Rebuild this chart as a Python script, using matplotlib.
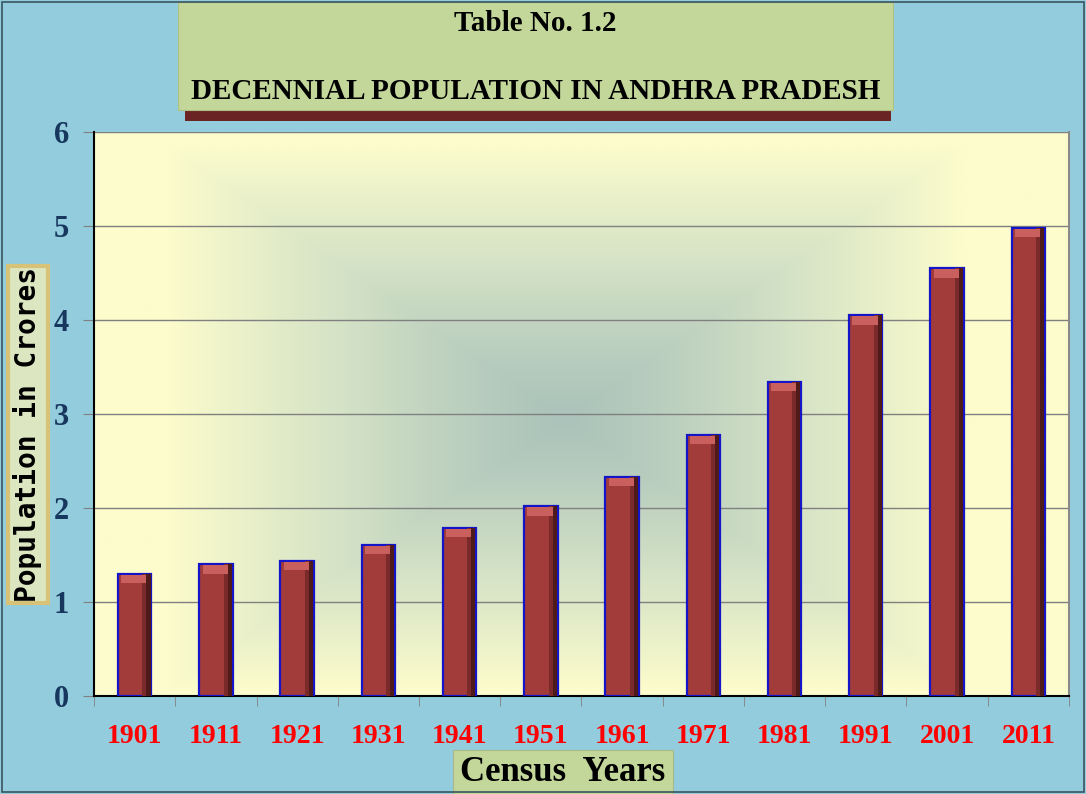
import numpy as np
import matplotlib.pyplot as plt
from matplotlib.patches import Rectangle, FancyBboxPatch
from matplotlib.colors import LinearSegmentedColormap

# census years and population (crores)
years = ['1901', '1911', '1921', '1931', '1941', '1951',
         '1961', '1971', '1981', '1991', '2001', '2011']
population = [1.30, 1.40, 1.44, 1.61, 1.79, 2.02,
              2.33, 2.78, 3.34, 4.05, 4.55, 4.98]
yticks = [0, 1, 2, 3, 4, 5, 6]

serif = ['Liberation Serif', 'DejaVu Serif']

fig = plt.figure(figsize=(10.86, 7.94), dpi=100, facecolor='#93CDDD')
ax = fig.add_axes([0.0866, 0.1234, 0.8977, 0.7104])

x = np.arange(len(years))
xmin, xmax = -0.5, len(years) - 0.5

# plot-area background: rectangular "from centre" gradient
gx, gy = np.meshgrid(np.linspace(xmin, xmax, 400), np.linspace(0, 6, 300))
t = np.maximum(np.abs(gx - 5.3) / 4.9, np.abs(gy - 2.95) / 2.9)
t = np.clip(t, 0, 1) ** 1.2
cmap = LinearSegmentedColormap.from_list('bg', ['#ABC3BA', '#D4E2C6', '#FCFCCC'])
ax.imshow(t, extent=[xmin, xmax, 0, 6], origin='lower', aspect='auto',
          cmap=cmap, vmin=0, vmax=1, zorder=0, interpolation='bilinear')

# bars
w = 0.41
ax.bar(x, population, width=w, color='#A23C3B', edgecolor='#1414C8',
       linewidth=1.6, zorder=3)
# shading for a bit of depth: dark right side, lighter top cap
ax.bar(x + w / 2 - 0.035, population, width=0.05, color='#4E1A1A',
       linewidth=0, zorder=4)
ax.bar(x + w / 2 - 0.085, population, width=0.05, color='#7A2A2A',
       linewidth=0, zorder=4)
cap = [0.09] * len(years)
ax.bar(x - 0.01, cap, bottom=[p - 0.1 for p in population], width=w - 0.1,
       color='#C9605E', linewidth=0, zorder=5)

ax.set_xlim(xmin, xmax)
ax.set_ylim(0, 6)
ax.set_yticks(yticks)
ax.grid(axis='y', color='#808080', linewidth=1.0, zorder=1)
ax.set_axisbelow(True)

ax.set_xticks(x)
ax.set_xticklabels(years)
ax.set_xticks(np.arange(xmin, xmax + 0.5, 1), minor=True)
ax.tick_params(axis='x', which='major', length=0, pad=20)
ax.tick_params(axis='x', which='minor', length=7, color='#808080', direction='out')
ax.tick_params(axis='y', length=8, color='#808080', pad=10)
for lb in ax.get_xticklabels():
    lb.set_fontfamily(serif)
    lb.set_fontweight('bold')
    lb.set_fontsize(20)
    lb.set_color('#FF0000')
for lb in ax.get_yticklabels():
    lb.set_fontfamily(serif)
    lb.set_fontweight('bold')
    lb.set_fontsize(22)
    lb.set_color('#17375E')

ax.spines['left'].set_color('black')
ax.spines['left'].set_linewidth(1.5)
ax.spines['bottom'].set_color('black')
ax.spines['bottom'].set_linewidth(1.5)
ax.spines['right'].set_color('#8A8A8A')
ax.spines['right'].set_linewidth(1.5)
ax.spines['top'].set_visible(False)

# title box with dark red shadow
fig.patches.append(Rectangle((0.170, 0.848), 0.650, 0.020, transform=fig.transFigure,
                             facecolor='#6A2424', edgecolor='none', zorder=1))
fig.patches.append(Rectangle((0.164, 0.862), 0.658, 0.136, transform=fig.transFigure,
                             facecolor='#C4D79B', edgecolor='#B0C080', linewidth=0.8, zorder=2))
fig.text(0.493, 0.971, 'Table No. 1.2', ha='center', va='center', family=serif,
         fontweight='bold', fontsize=21, color='black', zorder=3)
fig.text(0.493, 0.885, 'DECENNIAL POPULATION IN ANDHRA PRADESH', ha='center',
         va='center', family=serif, fontweight='bold', fontsize=21,
         color='black', zorder=3)

# y-axis label box
fig.patches.append(FancyBboxPatch((0.007, 0.240), 0.037, 0.425, transform=fig.transFigure,
                                  boxstyle='square,pad=0', facecolor='#DCE6C0',
                                  edgecolor='#D8C277', linewidth=3, zorder=2))
fig.text(0.0255, 0.453, 'Population in Crores', rotation=90, ha='center', va='center',
         family=['DejaVu Sans Mono'], fontweight='bold', fontsize=20, color='black',
         zorder=3)

# x-axis label box
fig.patches.append(Rectangle((0.417, -0.01), 0.203, 0.066, transform=fig.transFigure,
                             facecolor='#C4D79B', edgecolor='#A8B888', linewidth=0.8,
                             zorder=2))
fig.text(0.518, 0.027, 'Census  Years', ha='center', va='center', family=serif,
         fontweight='bold', fontsize=25, color='black', zorder=3)

# thin outer frame
fig.patches.append(Rectangle((0.002, 0.002), 0.996, 0.996, transform=fig.transFigure,
                             facecolor='none', edgecolor='#3A5560', linewidth=1.2, zorder=5))

fig.savefig('out.png', dpi=100, facecolor=fig.get_facecolor())
